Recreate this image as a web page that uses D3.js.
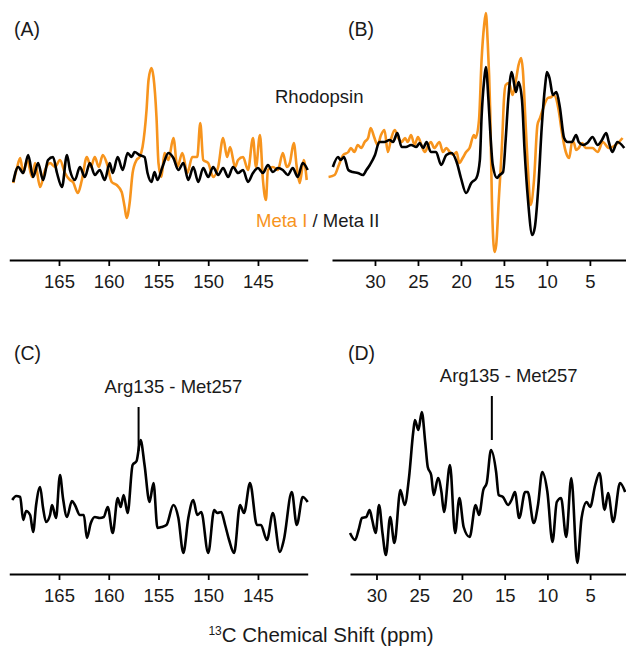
<!DOCTYPE html>
<html>
<head>
<meta charset="utf-8">
<script src="https://cdn.jsdelivr.net/npm/d3@7"></script>
<style>
body { margin: 0; background: #fff; }
svg { display: block; font-family: "Liberation Sans", Arial, Helvetica, sans-serif; }
</style>
</head>
<body>
<div id="chart"></div>
<script>
/***** Spectra : [ppm, intensity] *****/
// (A) Meta I (orange) / Meta II (black), 140-170 ppm
var metaIA = [[169.6,-16],[169.2,0],[168.9,9],[168.6,-6],[168.2,7],[167.7,-10],[167.4,4],[166.9,-20],[166.4,-3],[165.9,4],[165.4,0],[164.9,7],[164.4,-6],[163.9,-13],[163.6,-15],[163.1,-26],[162.7,-13],[162.2,10],[161.8,0],[161.4,10],[161.0,0],[160.6,12],[160.2,4],[159.7,-15],[159.2,-18],[158.7,-25],[158.4,-40],[158.2,-51],[157.9,-36],[157.6,-6],[157.2,7],[156.9,10],[156.6,20],[156.2,57],[156.0,87],[155.7,99],[155.5,90],[155.2,50],[155.0,4],[154.7,-10],[154.4,14],[154.0,7],[153.5,29],[153.1,0],[152.6,14],[152.1,-6],[151.6,10],[151.1,10],[150.8,44],[150.5,7],[150.0,4],[149.5,-10],[149.0,0],[148.5,29],[148.1,10],[147.8,20],[147.3,0],[147.0,7],[146.5,10],[146.0,-3],[145.5,29],[145.2,0],[144.8,32],[144.5,-13],[144.2,-33],[144.0,-3],[143.5,0],[143.0,-3],[142.5,14],[142.1,0],[141.8,4],[141.4,24],[141.1,0],[140.8,-16],[140.4,7],[140.1,-13]];
var metaIIA = [[169.6,-15],[169.1,0],[168.6,-6],[168.1,12],[167.6,-10],[167.1,4],[166.6,-13],[166.1,7],[165.6,10],[165.2,-6],[164.7,-20],[164.2,12],[163.9,-3],[163.4,-13],[162.9,0],[162.4,-10],[161.9,4],[161.4,-8],[160.9,-3],[160.4,-13],[159.9,4],[159.6,-6],[159.1,10],[158.6,-3],[158.1,14],[157.7,10],[157.4,15],[156.9,12],[156.4,10],[156.1,-6],[155.7,-15],[155.4,-5],[155.1,-13],[154.6,0],[154.0,14],[153.5,9],[153.0,-3],[152.5,4],[152.0,-13],[151.5,0],[151.0,-15],[150.5,-1],[150.0,-10],[149.5,0],[149.0,-8],[148.5,-1],[148.0,-10],[147.5,0],[147.0,-6],[146.5,-3],[146.0,-15],[145.5,-6],[145.0,-1],[144.5,-6],[144.0,2],[143.5,-5],[143.0,-1],[142.5,-3],[142.0,-8],[141.5,-1],[141.0,-10],[140.5,4],[140.0,-3]];

// (B) Meta I (orange) / Meta II (black), 1-35 ppm
var metaIB = [[35.4,-27],[34.7,-25],[34.2,-15],[33.7,-5],[33.1,-2],[32.8,2],[32.4,-2],[32.0,5],[31.6,2],[31.2,8],[30.8,12],[30.5,22],[30.1,13],[29.7,5],[29.3,15],[28.9,20],[28.5,-2],[28.1,12],[27.7,20],[27.3,12],[26.9,8],[26.5,12],[26.2,8],[25.8,15],[25.4,5],[25.0,13],[24.6,5],[24.2,-2],[23.8,5],[23.5,8],[23.1,2],[22.5,8],[22.1,-2],[21.7,2],[21.3,-2],[20.9,-5],[20.5,-2],[20.2,-13],[19.8,-8],[19.4,-2],[19.0,2],[18.5,15],[18.3,12],[17.9,30],[17.6,90],[17.3,125],[17.1,137],[16.9,110],[16.6,40],[16.4,-50],[16.1,-102],[15.9,-95],[15.6,-50],[15.2,10],[15.0,50],[14.8,65],[14.4,67],[14.0,55],[13.6,70],[13.3,85],[13.0,92],[12.8,80],[12.5,30],[12.2,-20],[11.9,-55],[11.5,-30],[11.1,25],[10.8,32],[10.5,40],[9.9,52],[9.5,53],[9.2,55],[8.6,38],[8.3,20],[7.8,-2],[7.4,-8],[7.1,7],[6.9,8],[6.6,0],[6.3,2],[5.9,7],[5.5,2],[4.7,2],[4.1,-2],[3.5,8],[2.8,2],[2.0,5],[1.2,12]];
var metaIIB = [[34.9,-17],[34.3,-7],[34.0,-10],[33.6,-7],[33.1,-20],[32.6,-22],[32.0,-23],[31.4,-25],[31.0,-20],[30.6,-15],[30.0,-5],[29.5,8],[28.9,8],[28.3,10],[27.9,8],[27.4,17],[26.9,3],[26.4,3],[25.8,5],[25.2,3],[24.8,7],[24.4,2],[24.0,8],[23.5,-2],[22.9,-2],[22.3,-15],[21.7,-5],[21.1,-3],[20.5,-12],[20.0,-28],[19.4,-43],[18.8,-33],[18.2,-28],[17.8,-10],[17.6,33],[17.3,70],[17.1,83],[16.8,50],[16.6,20],[16.3,-15],[15.8,-28],[15.5,-25],[15.1,-22],[14.8,10],[14.5,50],[14.1,78],[13.6,58],[13.3,68],[12.9,50],[12.6,0],[12.2,-50],[11.7,-85],[11.4,-77],[11.0,-37],[10.6,23],[10.2,65],[10.0,78],[9.7,72],[9.3,55],[8.9,58],[8.5,43],[8.0,12],[7.6,8],[7.1,8],[6.6,15],[6.3,8],[5.8,5],[5.3,7],[4.7,13],[4.1,5],[3.6,10],[3.1,17],[2.8,8],[2.4,-2],[1.8,8],[1.0,2]];

// (C) and (D) Arg135 - Met257 contacts
var argMetC = [[169.7,20],[169.3,24],[168.9,23],[168.6,0],[168.3,9],[167.9,5],[167.6,-12],[167.3,15],[166.9,33],[166.6,12],[166.3,-2],[165.9,5],[165.7,15],[165.3,2],[164.9,45],[164.6,22],[164.2,3],[163.7,19],[163.4,15],[162.9,5],[162.5,5],[162.2,-18],[161.8,-3],[161.4,3],[160.9,2],[160.5,3],[160.1,13],[159.6,-13],[159.1,22],[158.8,13],[158.5,25],[158.1,7],[157.6,55],[157.2,59],[156.8,80],[156.4,55],[155.9,18],[155.5,37],[155.1,-8],[154.7,-7],[154.2,-5],[153.5,15],[153.0,2],[152.5,-33],[152.0,2],[151.5,20],[151.1,5],[150.7,8],[150.0,-33],[149.4,10],[149.1,7],[148.7,8],[148.3,-5],[147.9,-20],[147.4,-33],[146.8,15],[146.4,7],[145.8,37],[145.1,-5],[144.7,-5],[144.1,-20],[143.5,7],[142.8,-32],[142.4,-20],[141.6,28],[141.1,-5],[140.5,23],[140.0,18]];
var argMetD = [[33.1,-13],[32.5,-20],[32.1,-10],[31.7,2],[31.2,3],[30.8,10],[30.5,0],[30.1,-13],[29.7,15],[29.3,-13],[28.9,-35],[28.4,3],[27.9,-23],[27.2,30],[26.7,15],[26.2,42],[25.7,88],[25.5,100],[25.1,90],[24.7,108],[24.3,78],[24.0,53],[23.6,45],[23.3,25],[22.8,42],[22.4,28],[22.1,8],[21.4,55],[20.8,-13],[20.3,22],[19.8,-7],[19.1,-17],[18.4,15],[18.0,5],[17.5,30],[17.1,37],[16.6,70],[16.0,48],[15.7,25],[15.2,23],[14.6,15],[14.2,20],[13.8,28],[13.3,2],[12.6,28],[12.3,28],[11.6,-3],[11.1,15],[10.6,48],[10.0,28],[9.4,-22],[8.9,18],[8.4,22],[7.8,-17],[7.2,42],[6.5,-43],[6.0,2],[5.4,18],[5.0,13],[4.4,35],[3.9,47],[3.3,10],[2.9,27],[2.3,-2],[1.5,37],[0.9,28]];

/***** Axis ticks and marker positions *****/
var ticksCarbonyl = [165, 160, 155, 150, 145];
var ticksAliphatic = [30, 25, 20, 15, 10, 5];
var markerPpm = [157, 16.5];

var ORANGE = "#F7941D";

var svg = d3.select("#chart").append("svg")
    .attr("width", 626)
    .attr("height", 648);

var panels = [
    {label: "(A)", lx: 14, ly: 36, axisY: 260,
     x: d3.scaleLinear().domain([170, 140]).range([9.25, 307.7]),
     y: d3.scaleLinear().domain([-60, 110]).range([227, 57]),
     ticks: ticksCarbonyl, series: [metaIA, metaIIA]},
    {label: "(B)", lx: 348, ly: 36, axisY: 260,
     x: d3.scaleLinear().domain([35, 0.8]).range([332, 626]),
     y: d3.scaleLinear().domain([-110, 145]).range([260, 5]),
     ticks: ticksAliphatic, series: [metaIB, metaIIB]},
    {label: "(C)", lx: 14, ly: 360, axisY: 574,
     x: d3.scaleLinear().domain([170, 140]).range([9.25, 307.7]),
     y: d3.scaleLinear().domain([-60, 100]).range([580, 420]),
     ticks: ticksCarbonyl, series: [argMetC], marker: markerPpm[0], labelDx: -34},
    {label: "(D)", lx: 348, ly: 360, axisY: 574,
     x: d3.scaleLinear().domain([33.1, 0.8]).range([350, 626]),
     y: d3.scaleLinear().domain([-60, 100]).range([580, 420]),
     ticks: ticksAliphatic, series: [argMetD], marker: markerPpm[1], labelDx: -52}
];

panels.forEach(function(p) {
    var g = svg.append("g");

    /***** Axis *****/
    var axis = d3.axisBottom(p.x)
        .tickValues(p.ticks)
        .tickSize(6)
        .tickSizeOuter(0)
        .tickPadding(9)
        .tickFormat(d3.format("d"));

    var ax = g.append("g")
        .attr("transform", "translate(0," + p.axisY + ")")
        .call(axis);
    ax.select(".domain").attr("stroke-width", 2);
    ax.selectAll(".tick line").attr("stroke-width", 1.8);
    ax.selectAll("text")
        .attr("font-size", 18.5)
        .attr("font-family", "Liberation Sans, Arial, sans-serif")
        .attr("fill", "#1a1a1a");

    /***** Spectra *****/
    var line = d3.line()
        .x(function(d) { return p.x(d[0]); })
        .y(function(d) { return p.y(d[1]); })
        .curve(d3.curveMonotoneX);

    p.series.forEach(function(s, i) {
        var black = (p.series.length == 1 || i == 1);
        g.append("path")
            .datum(s)
            .attr("fill", "none")
            .attr("stroke", black ? "#000" : ORANGE)
            .attr("stroke-width", 2.6)
            .attr("stroke-linejoin", "round")
            .attr("d", line);
    });

    /***** Panel letter *****/
    g.append("text")
        .attr("x", p.lx)
        .attr("y", p.ly)
        .attr("font-size", 19.5)
        .attr("fill", "#1a1a1a")
        .text(p.label);

    /***** Peak marker *****/
    if (p.marker !== undefined) {
        var s = p.series[0];
        var peak = d3.least(s, function(d) { return Math.abs(d[0] - p.marker); });
        var mx = p.x(p.marker);
        var bottom = p.y(peak[1]) - 10;
        var top = bottom - 44;
        g.append("line")
            .attr("x1", mx).attr("x2", mx)
            .attr("y1", top).attr("y2", bottom)
            .attr("stroke", "#000")
            .attr("stroke-width", 2);
        g.append("text")
            .attr("x", mx + p.labelDx)
            .attr("y", top - 14)
            .attr("font-size", 18.5)
            .attr("fill", "#1a1a1a")
            .text("Arg135 - Met257");
    }
});

/***** Legend of panels A/B *****/
svg.append("text")
    .attr("x", 275)
    .attr("y", 103)
    .attr("font-size", 18.5)
    .attr("fill", "#1a1a1a")
    .text("Rhodopsin");

var meta = svg.append("text")
    .attr("x", 256)
    .attr("y", 227)
    .attr("font-size", 18.5);
meta.append("tspan").attr("fill", ORANGE).text("Meta I");
meta.append("tspan").attr("fill", "#1a1a1a").text(" / Meta II");

/***** Shared x-axis title *****/
var title = svg.append("text")
    .attr("x", 321)
    .attr("y", 642)
    .attr("text-anchor", "middle")
    .attr("font-size", 20.5)
    .attr("fill", "#1a1a1a");
title.append("tspan").attr("font-size", 12).attr("dy", -7).text("13");
title.append("tspan").attr("dy", 7).text("C Chemical Shift (ppm)");
</script>
</body>
</html>
